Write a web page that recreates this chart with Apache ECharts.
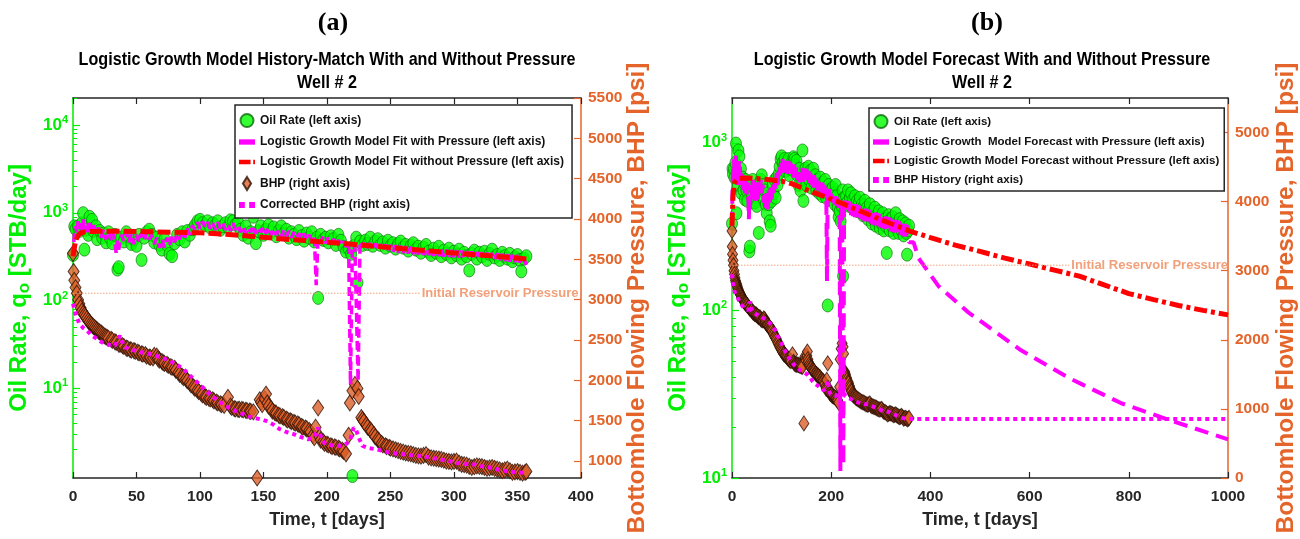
<!DOCTYPE html>
<html><head><meta charset="utf-8">
<script src="https://cdn.jsdelivr.net/npm/echarts@6/dist/echarts.min.js"></script>
<style>html,body{margin:0;padding:0;background:#fff;overflow:hidden}#c{width:1300px;height:539px}</style>
</head><body><div id="c"></div>
<script>
// ---------------- DATA ----------------
// Oil rate history [day, STB/day]
const oilRate = [[0,330],[1,700],[2,650],[4,700],[5,620],[7,760],[8,990],[9,380],[10,640],[12,560],[13,900],[15,830],[16,620],[18,700],[19,500],[21,620],[23,520],[24,580],[26,460],[28,600],[29,520],[31,450],[33,560],[35,225],[36,240],[38,520],[40,470],[42,600],[44,540],[46,440],[48,500],[50,420],[52,560],[54,290],[56,520],[58,600],[60,640],[62,560],[64,460],[66,520],[68,430],[70,380],[72,500],[74,430],[76,340],[78,320],[80,450],[82,560],[84,500],[86,600],[88,470],[90,620],[92,560],[94,650],[96,720],[98,800],[100,830],[102,760],[104,720],[106,800],[108,680],[110,760],[112,720],[114,800],[116,640],[118,700],[120,760],[122,690],[124,820],[126,800],[128,730],[130,780],[132,640],[134,560],[136,700],[138,520],[140,600],[142,900],[144,450],[146,620],[148,700],[150,560],[152,640],[154,720],[156,600],[158,680],[160,540],[162,620],[164,700],[166,580],[168,640],[170,520],[172,600],[174,560],[176,500],[178,620],[180,540],[182,480],[184,580],[186,520],[188,600],[190,470],[192,520],[193,107],[195,560],[197,490],[199,520],[201,460],[203,540],[205,500],[207,430],[209,560],[211,480],[213,410],[215,360],[217,390],[219,340],[220,1.0],[221,420],[223,520],[224,160],[226,470],[228,430],[230,480],[232,440],[234,520],[236,420],[238,470],[240,500],[242,430],[244,460],[246,400],[248,480],[250,420],[252,450],[254,390],[256,440],[258,470],[260,400],[262,430],[264,370],[266,420],[268,450],[270,380],[272,410],[274,350],[276,400],[278,430],[280,360],[282,330],[284,390],[286,350],[288,410],[290,320],[292,370],[294,340],[296,390],[298,310],[300,360],[302,330],[304,380],[306,300],[308,350],[310,320],[312,220],[314,340],[316,370],[318,300],[320,350],[322,320],[324,360],[326,290],[328,340],[330,380],[332,310],[334,330],[336,290],[338,350],[340,320],[342,300],[344,340],[346,280],[348,310],[350,330],[352,290],[353,215],[355,300],[357,320]];

// Logistic growth model fit WITH pressure (history part) [day, STB/day]
const fitWithPressure = [[0,320],[1,560],[2,700],[3,600],[4,800],[5,640],[6,760],[7,600],[8,840],[9,620],[10,700],[11,560],[12,760],[13,640],[14,800],[15,600],[16,720],[18,560],[20,680],[22,520],[24,640],[26,500],[28,620],[30,480],[32,580],[34,350],[35,480],[36,380],[38,560],[40,480],[42,600],[44,460],[46,580],[48,440],[50,560],[52,460],[54,580],[56,480],[58,600],[60,500],[62,560],[64,440],[66,520],[68,400],[70,500],[72,400],[74,520],[76,420],[78,540],[80,460],[82,580],[84,500],[86,620],[88,520],[90,660],[92,560],[94,720],[96,640],[98,780],[100,660],[102,800],[104,680],[106,780],[108,660],[110,760],[112,640],[114,780],[116,660],[118,760],[120,640],[122,740],[124,620],[126,760],[128,640],[130,720],[132,600],[134,700],[136,580],[138,680],[140,600],[142,720],[144,580],[146,680],[148,600],[150,700],[152,580],[154,680],[156,560],[158,660],[160,560],[162,640],[164,540],[166,640],[168,540],[170,620],[172,520],[174,600],[176,520],[178,580],[180,500],[182,580],[184,490],[186,560],[188,480],[190,540],[191.5,150],[193,520],[195,460],[197,540],[199,450],[201,520],[203,440],[205,500],[207,430],[209,490],[211,420],[213,470],[215,410],[217,450],[218.5,11],[220,440],[222,400],[224.5,12],[226,470],[228,410],[230,460],[232,400],[234,450],[236,390],[238,445],[240,370],[242,440],[244,365],[246,435],[248,360],[250,430],[252,355],[254,425],[256,352],[258,420],[260,350],[262,415],[264,345],[266,410],[268,340],[270,405],[272,335],[274,400],[276,332],[278,398],[280,330],[282,392],[284,325],[286,388],[288,322],[290,384],[292,318],[294,380],[296,315],[298,376],[300,313],[302,372],[304,310],[306,368],[308,306],[310,364],[312,303],[314,360],[316,300],[318,357],[320,297],[322,354],[324,294],[326,350],[328,291],[330,347],[332,288],[334,344],[336,285],[338,340],[340,282],[342,336],[344,279],[346,332],[348,276],[350,328],[352,272],[354,322],[357,255]];

// Forecast continuation WITH pressure [day, STB/day]
const forecastWithPressure = [[366,255],[376,205],[416,140],[475,98],[582,58],[683,39],[784,28],[885,22],[1000,17]];

// Logistic growth model WITHOUT pressure (fit + forecast) [day, STB/day]
const fitWithoutPressure = [[0,320],[2,480],[4,550],[6,585],[8,600],[10,606],[15,612],[20,615],[30,616],[40,615],[50,612],[60,608],[80,600],[100,590],[120,570],[140,540],[160,510],[180,485],[200,462],[220,437],[240,412],[260,390],[280,368],[300,348],[320,330],[340,313],[357,298],[400,272],[450,245],[500,225],[550,205],[600,189],[650,174],[700,160],[750,142],[800,126],[850,116],[900,107],[950,100],[1000,94]];

// Measured bottomhole pressure [day, psi]
const bhp = [[0,3575],[0.5,3350],[1,3240],[2,3150],[3,3080],[4,3000],[5,2950],[6,2900],[7,2860],[8,2830],[9,2810],[10,2790],[11,2765],[12,2740],[13,2720],[14,2700],[15,2685],[16,2670],[17,2655],[18,2640],[19,2625],[20,2610],[21,2600],[22,2590],[23,2575],[24,2560],[25,2550],[26,2540],[27,2530],[28,2520],[30,2510],[31,2495],[33,2480],[34,2470],[36,2450],[37,2445],[39,2430],[40,2420],[42,2400],[43,2395],[45,2380],[46,2375],[48,2370],[49,2360],[51,2350],[52,2340],[54,2330],[55,2325],[57,2320],[58,2300],[60,2290],[61,2285],[63,2280],[64,2310],[66,2300],[67,2270],[68,2250],[70,2235],[71,2220],[72,2210],[74,2200],[75,2185],[77,2170],[78,2160],[80,2150],[81,2125],[83,2100],[84,2075],[86,2050],[87,2035],[89,2020],[90,1995],[92,1970],[93,1945],[95,1920],[96,1900],[98,1880],[99,1860],[101,1840],[102,1820],[104,1800],[105,1790],[107,1780],[108,1770],[110,1760],[111,1745],[113,1730],[114,1720],[116,1710],[117,1700],[119,1690],[122,1790],[124,1680],[125,1665],[127,1650],[128,1645],[130,1640],[131,1640],[133,1640],[134,1635],[136,1630],[137,1625],[139,1620],[140,1615],[142,1610],[145,790],[147,1760],[148,1730],[149,1700],[151,1770],[152,1830],[153,1720],[154,1680],[156,1650],[157,1620],[159,1600],[160,1590],[162,1570],[163,1560],[165,1550],[166,1540],[168,1520],[169,1510],[171,1500],[172,1490],[174,1480],[175,1470],[177,1460],[178,1450],[180,1430],[181,1420],[183,1410],[184,1400],[186,1380],[187,1360],[189,1320],[190,1290],[191,1420],[193,1660],[194,1300],[195,1260],[197,1240],[198,1220],[200,1210],[201,1200],[203,1190],[204,1180],[206,1175],[207,1170],[209,1160],[210,1150],[212,1135],[213,1120],[215,1090],[217,1320],[218,1720],[220,1870],[222,1950],[224,1900],[225,1800],[227,1540],[228,1515],[229,1490],[231,1450],[232,1420],[234,1390],[235,1370],[237,1330],[238,1300],[240,1270],[241,1250],[243,1220],[244,1200],[246,1190],[247,1180],[249,1170],[250,1160],[252,1150],[254,1140],[256,1130],[258,1120],[260,1110],[262,1100],[264,1095],[266,1090],[268,1080],[270,1070],[272,1065],[274,1060],[276,1070],[278,1080],[280,1050],[282,1040],[284,1035],[286,1030],[288,1025],[290,1020],[292,1010],[294,1000],[296,995],[298,990],[300,995],[302,1000],[304,975],[306,960],[308,955],[310,950],[312,935],[314,920],[316,930],[318,940],[320,935],[322,930],[324,920],[326,910],[328,915],[330,920],[332,910],[334,900],[336,890],[338,880],[340,890],[342,900],[344,880],[346,860],[348,865],[350,870],[352,860],[354,850],[356,860],[357,870]];

// Corrected BHP [day, psi]
const correctedBhp = [[0,2950],[2,2830],[5,2700],[8,2650],[11,2617],[14,2570],[17,2534],[21,2490],[25,2451],[29,2440],[33,2430],[37,2555],[40,2420],[44,2389],[49,2370],[54,2348],[60,2330],[65,2306],[70,2280],[76,2244],[81,2200],[87,2140],[92,2060],[98,1975],[103,1900],[109,1809],[114,1750],[120,1684],[125,1640],[131,1601],[136,1570],[141,1540],[147,1520],[152,1498],[158,1450],[163,1394],[168,1360],[174,1332],[179,1300],[185,1270],[190,1300],[193,1415],[196,1260],[199,1207],[204,1195],[210,1187],[214,1200],[218,1249],[221,1415],[223,1380],[225,1290],[228,1187],[233,1160],[239,1145],[245,1120],[250,1104],[256,1090],[261,1083],[268,1070],[275,1062],[282,1040],[289,1021],[296,1000],[302,979],[309,965],[316,958],[322,935],[329,917],[336,890],[343,870],[350,860],[357,855]];

// BHP history held constant over the forecast [day, psi]
const bhpForecast = [[357,855],[1000,855]];

// Initial reservoir pressure reference [psi] and the day span of its dotted line in each panel
const initialPressure = 3080;
const initLineSpanA = [0, 273];
const initLineSpanB = [0, 680];

// Tick labels
const xTicksA = [0, 50, 100, 150, 200, 250, 300, 350, 400];
const xTicksB = [0, 200, 400, 600, 800, 1000];
const logTicksA = [10, 100, 1000, 10000];
const logTicksB = [10, 100, 1000];
const psiTicksA = [1000, 1500, 2000, 2500, 3000, 3500, 4000, 4500, 5000, 5500];
const psiTicksB = [0, 1000, 2000, 3000, 4000, 5000];

// Titles
const titleA = ['Logistic Growth Model History-Match With and Without Pressure', 'Well # 2'];
const titleB = ['Logistic Growth Model Forecast With and Without Pressure', 'Well # 2'];

// ---------------- CHART ----------------
const SANS = "'Liberation Sans',Arial,sans-serif";
const SERIF = "'Liberation Serif','Times New Roman',serif";
const GREEN = '#00ee00', ORANGE = '#e4642a', LIGHTOR = '#f2a07a', MAG = '#ff00ff', RED = '#ff0000', INK = '#262626';

function minorList(lo, hi, max) {
  const out = [];
  for (let e = lo; e < hi; e++) for (let m = 2; m <= 9; m++) { const v = m * Math.pow(10, e); if (v < max) out.push(v); }
  return out;
}
const supFmt = v => '{b|10}{s|' + Math.round(Math.log10(v)) + '}';
const logLabel = (vals) => ({
  customValues: vals, formatter: supFmt, margin: 5, color: GREEN,
  rich: {
    b: { fontSize: 17, fontFamily: SANS, fontWeight: 'bold', color: GREEN },
    s: { fontSize: 11, fontFamily: SANS, fontWeight: 'bold', color: GREEN, padding: [0, 0, 10, 0] }
  }
});
const tickFont = { fontFamily: SANS, fontWeight: 'bold', fontSize: 15.5 };
const oilName = {
  name: '{a|Oil Rate, q}{s|o}{a| [STB/day]}', nameLocation: 'middle', nameRotate: 90, nameMoveOverlap: false,
  nameTextStyle: { color: GREEN, fontFamily: SANS, fontWeight: 'bold', fontSize: 24,
    rich: { a: { color: GREEN, fontFamily: SANS, fontWeight: 'bold', fontSize: 24 },
            s: { color: GREEN, fontFamily: SANS, fontWeight: 'bold', fontSize: 17, padding: [10, 0, 0, 0] } } }
};
const psiName = {
  name: 'Bottomhole Flowing Pressure, BHP [psi]', nameLocation: 'middle', nameRotate: 90, nameMoveOverlap: false,
  nameTextStyle: { color: ORANGE, fontFamily: SANS, fontWeight: 'bold', fontSize: 24.5, padding: [0, 20, 0, 0] }
};
function xAxes(grid, max, interval, ticks) {
  const common = { gridIndex: grid, type: 'value', min: 0, max: max, interval: interval, splitLine: { show: false },
    axisLine: { show: true, onZero: false, lineStyle: { color: INK, width: 1.5 } },
    axisTick: { show: true, inside: true, length: 6, customValues: ticks, lineStyle: { color: INK, width: 1.2 } } };
  return [
    Object.assign({}, common, { position: 'bottom',
      axisLabel: Object.assign({ color: INK, margin: 11, customValues: ticks, formatter: v => String(v) }, tickFont),
      name: 'Time, t [days]', nameLocation: 'middle', nameGap: 33, nameMoveOverlap: false,
      nameTextStyle: { color: INK, fontFamily: SANS, fontWeight: 'bold', fontSize: 18 } }),
    Object.assign({}, common, { position: 'top', axisLabel: { show: false } })
  ];
}
function logAxis(grid, min, max, ticks, hi, gap) {
  return [
    Object.assign({ gridIndex: grid, type: 'log', logBase: 10, min: min, max: max, position: 'left',
      splitLine: { show: false },
      axisLine: { show: true, lineStyle: { color: GREEN, width: 1.5 } },
      axisTick: { show: true, inside: true, length: 7, customValues: ticks, lineStyle: { color: GREEN, width: 1.2 } },
      axisLabel: logLabel(ticks), nameGap: gap }, oilName),
    { gridIndex: grid, type: 'log', logBase: 10, min: min, max: max, position: 'left',
      splitLine: { show: false }, axisLine: { show: false }, axisLabel: { show: false },
      axisTick: { show: true, inside: true, length: 4, customValues: minorList(Math.floor(Math.log10(min)), hi, max), lineStyle: { color: GREEN, width: 1 } } }
  ];
}
function psiAxis(grid, min, max, ticks, gap) {
  return Object.assign({ gridIndex: grid, type: 'value', min: min, max: max, position: 'right',
    splitLine: { show: false },
    axisLine: { show: true, lineStyle: { color: ORANGE, width: 1.5 } },
    axisTick: { show: true, inside: true, length: 7, customValues: ticks, lineStyle: { color: ORANGE, width: 1.2 } },
    axisLabel: Object.assign({ color: ORANGE, margin: 7, customValues: ticks, formatter: v => String(v) }, tickFont),
    nameGap: gap }, psiName);
}

const ELLIPSE = 'path://M5,0A5,5,0,1,1,5,10A5,5,0,1,1,5,0Z';
const oilStyle = { color: '#00ff00', borderColor: '#0b6a0b', borderWidth: 0.8 };
const bhpStyle = { color: '#dd5f28', borderColor: '#2a1005', borderWidth: 1 };
const initLabel = { show: true, formatter: 'Initial Reservoir Pressure', color: LIGHTOR, fontFamily: SANS, fontWeight: 'bold', fontSize: 13, distance: 2 };

const N_OIL = 'Oil Rate (left axis)';
const N_FWP = 'Logistic Growth Model Fit with Pressure (left axis)';
const N_FWOP = 'Logistic Growth Model Fit without Pressure (left axis)';
const N_BHP = 'BHP (right axis)';
const N_CBHP = 'Corrected BHP (right axis)';
const N_FCWP = 'Logistic Growth  Model Forecast with Pressure (left axis)';
const N_FCWOP = 'Logistic Growth Model Forecast without Pressure (left axis)';
const N_HIST = 'BHP History (right axis)';
const ICON_DIAMOND = 'path://M5,0L10,8L5,16L0,8Z';
const ICON_DASH = 'path://M0,0H12V4H0Z';
const ICON_RED = 'path://M0,0H13V5H0Z M16,0H18V5H16Z';
const ICON_DOT = 'path://M0,0H4V4H0Z M7,0H11V4H7Z';

const legendCommon = { orient: 'vertical', itemWidth: 16, itemHeight: 13, itemGap: 8,
  backgroundColor: '#fff', borderColor: INK, borderWidth: 1.5, borderRadius: 0, padding: [8, 8, 7, 4],
  textStyle: { fontFamily: SANS, fontWeight: 'bold', fontSize: 12, color: '#111' }, selectedMode: false };

function titleTexts(cx, lines) {
  return [
    { type: 'text', x: cx, y: 60, scaleX: 0.85, style: { text: lines[0], fill: '#000', font: "bold 19px " + SANS, textAlign: 'center', textVerticalAlign: 'middle' } },
    { type: 'text', x: cx, y: 83, scaleX: 0.85, style: { text: lines[1], fill: '#000', font: "bold 19px " + SANS, textAlign: 'center', textVerticalAlign: 'middle' } }
  ];
}

const option = {
  animation: false,
  backgroundColor: '#fff',
  title: [
    { text: '(a)', left: 328, top: 5, textAlign: 'center', textStyle: { fontFamily: SERIF, fontWeight: 'bold', fontSize: 26, color: '#000' } },
    { text: '(b)', left: 982, top: 5, textAlign: 'center', textStyle: { fontFamily: SERIF, fontWeight: 'bold', fontSize: 26, color: '#000' } }
  ],
  graphic: [].concat(titleTexts(327, titleA), titleTexts(982, titleB)),
  legend: [
    Object.assign({}, legendCommon, { left: 235, top: 105, data: [
      { name: N_OIL, icon: 'circle' }, { name: N_FWP, icon: ICON_DASH }, { name: N_FWOP, icon: ICON_RED },
      { name: N_BHP, icon: ICON_DIAMOND }, { name: N_CBHP, icon: ICON_DOT }] }),
    Object.assign({}, legendCommon, { left: 869, top: 108, itemGap: 7, padding: [6, 5, 5, 4],
      textStyle: { fontFamily: SANS, fontWeight: 'bold', fontSize: 11.5, color: '#111' }, data: [
      { name: N_OIL, icon: 'circle' }, { name: N_FCWP, icon: ICON_DASH }, { name: N_FCWOP, icon: ICON_RED },
      { name: N_HIST, icon: ICON_DOT }] })
  ],
  grid: [
    { left: 73, top: 98, width: 508, height: 380 },
    { left: 732, top: 98, width: 497, height: 380 }
  ],
  xAxis: [].concat(xAxes(0, 400, 50, xTicksA), xAxes(1, 1000, 200, xTicksB)),
  yAxis: [].concat(
    logAxis(0, 0.95, 20300, logTicksA, 5, 40),
    [psiAxis(0, 790, 5500, psiTicksA, 44)],
    logAxis(1, 10, 1850, logTicksB, 4, 40),
    [psiAxis(1, 0, 5500, psiTicksB, 46)]
  ),
  series: [
    // ---- panel (a) ----
    { name: N_OIL, type: 'scatter', xAxisIndex: 0, yAxisIndex: 0, data: oilRate, symbol: ELLIPSE, symbolSize: [11, 13], symbolKeepAspect: false, itemStyle: oilStyle, clip: false },
    { name: N_FWP, type: 'line', xAxisIndex: 0, yAxisIndex: 0, data: fitWithPressure, symbol: 'none',
      lineStyle: { color: MAG, width: 3.5, type: [9, 5] }, itemStyle: { color: MAG } },
    { name: N_FWOP, type: 'line', xAxisIndex: 0, yAxisIndex: 0, data: fitWithoutPressure.filter(p => p[0] <= 357), symbol: 'none',
      lineStyle: { color: RED, width: 5, type: [13, 4] }, itemStyle: { color: RED } },
    { name: N_BHP, type: 'scatter', xAxisIndex: 0, yAxisIndex: 2, data: bhp, symbol: 'diamond', symbolSize: [11, 16], itemStyle: bhpStyle, clip: false },
    { name: N_CBHP, type: 'line', xAxisIndex: 0, yAxisIndex: 2, data: correctedBhp, symbol: 'none',
      lineStyle: { color: MAG, width: 4, type: [4, 4] }, itemStyle: { color: MAG } },
    { name: 'Initial Reservoir Pressure', type: 'line', xAxisIndex: 0, yAxisIndex: 2, symbol: 'none',
      data: initLineSpanA.map(t => [t, initialPressure]), lineStyle: { color: LIGHTOR, width: 1, type: [1.5, 1.5] }, endLabel: initLabel },
    // ---- panel (b) ----
    { name: N_OIL, type: 'scatter', xAxisIndex: 2, yAxisIndex: 3, data: oilRate, symbol: ELLIPSE, symbolSize: [11, 13], symbolKeepAspect: false, itemStyle: oilStyle, clip: false },
    { name: N_FCWP, type: 'line', xAxisIndex: 2, yAxisIndex: 3, data: fitWithPressure.concat(forecastWithPressure), symbol: 'none',
      lineStyle: { color: MAG, width: 4, type: [14, 8] }, itemStyle: { color: MAG } },
    { name: N_FCWOP, type: 'line', xAxisIndex: 2, yAxisIndex: 3, data: fitWithoutPressure, symbol: 'none',
      lineStyle: { color: RED, width: 5, type: [13, 4, 4, 4] }, itemStyle: { color: RED } },
    { name: N_BHP, type: 'scatter', xAxisIndex: 2, yAxisIndex: 5, data: bhp, symbol: 'diamond', symbolSize: [10, 15], itemStyle: bhpStyle, clip: false },
    { name: N_HIST, type: 'line', xAxisIndex: 2, yAxisIndex: 5, data: correctedBhp.concat(bhpForecast), symbol: 'none',
      lineStyle: { color: MAG, width: 4, type: [4, 4] }, itemStyle: { color: MAG } },
    { name: 'Initial Reservoir Pressure ', type: 'line', xAxisIndex: 2, yAxisIndex: 5, symbol: 'none',
      data: initLineSpanB.map(t => [t, initialPressure]), lineStyle: { color: LIGHTOR, width: 1, type: [1.5, 1.5] }, endLabel: initLabel }
  ]
};
const chart = echarts.init(document.getElementById('c'), null, { renderer: 'canvas' });
chart.setOption(option);
</script>
</body></html>
